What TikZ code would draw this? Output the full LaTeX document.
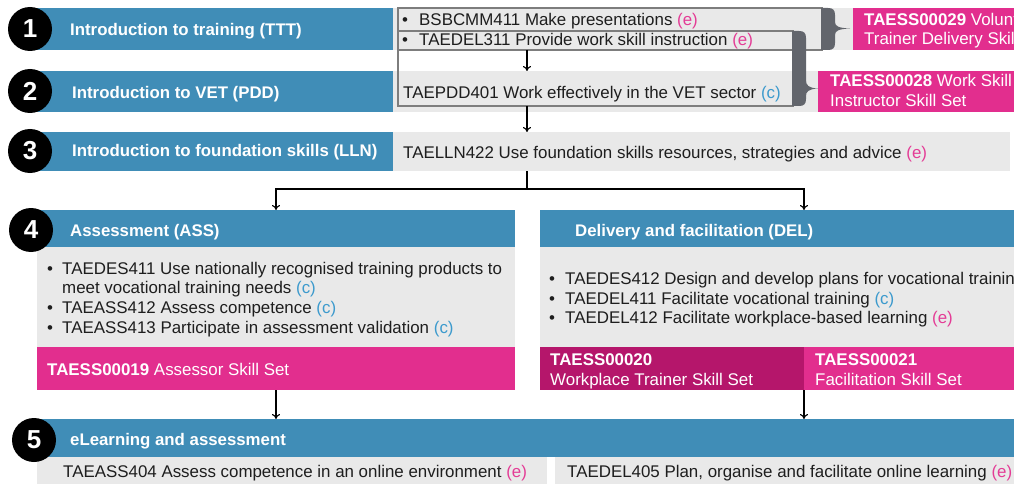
\documentclass[tikz,border=0pt]{standalone}
\usepackage{fontspec}
\setmainfont{Liberation Sans}
\usetikzlibrary{arrows.meta}
\definecolor{bluebar}{RGB}{64,141,183}
\definecolor{panel}{RGB}{233,233,233}
\definecolor{pinkbox}{RGB}{226,46,142}
\definecolor{magbox}{RGB}{181,22,107}
\definecolor{ecol}{RGB}{228,60,150}
\definecolor{ccol}{RGB}{60,154,205}
\definecolor{bracecol}{RGB}{98,101,108}
\definecolor{outl}{RGB}{125,125,125}
\definecolor{ink}{RGB}{30,30,30}
\newcommand\eTag{{\color{ecol}(e)}}
\newcommand\cTag{{\color{ccol}(c)}}
\begin{document}
\begin{tikzpicture}[x=1pt,y=-1pt,
  rectbox/.style={rectangle,inner sep=0,outer sep=0,anchor=north west},
  bar/.style={rectbox,fill=bluebar},
  pan/.style={rectbox,fill=panel},
  pinkb/.style={rectbox,fill=pinkbox},
  magb/.style={rectbox,fill=magbox},
  outlinebox/.style={rectbox,draw=outl,line width=1.2pt},
  txt/.style={inner sep=0,anchor=base west,text=ink,font=\fontsize{16.9}{20}\selectfont},
  ttl/.style={txt,text=white,font=\fontsize{16.8}{20}\selectfont\bfseries},
  wtxt/.style={txt,text=white},
  bul/.style={txt},
  num/.style={circle,fill=black,minimum size=44pt,inner sep=0,text=white,font=\fontsize{26}{26}\selectfont\bfseries},
  conn/.style={draw=black,line width=1.1pt},
  arr/.style={conn,-{To[length=5pt,width=8pt]}}
]
\clip (0,0) rectangle (1014,484);
\fill[white] (0,0) rectangle (1014,484);

% ---- row 1 and 2 ----
\node[bar,minimum width=356pt,minimum height=42pt] (b1) at (37,8) {};
\node[pan,minimum width=621pt,minimum height=42pt] (p1) at (393,8) {};
\node[bar,minimum width=356pt,minimum height=41pt] (b2) at (37,71) {};
\node[pan,minimum width=425pt,minimum height=41pt] (p2) at (393,71) {};
\node[pinkb,minimum width=161pt,minimum height=42pt] (k29) at (853,8) {};
\node[pinkb,minimum width=196pt,minimum height=41pt] (k28) at (818,71) {};

\node[outlinebox,minimum width=424pt,minimum height=42pt] (box1) at (398,8) {};
\node[outlinebox,minimum width=395pt,minimum height=75pt] (box2) at (398,31) {};

% braces
\fill[bracecol] (821,8) -- (828,8) .. controls (833,8) and (835,10) .. (835,15) -- (835,22)
  .. controls (835,26) and (838,28) .. (850,28.5) .. controls (838,29) and (835,31) .. (835,35)
  -- (835,43) .. controls (835,48) and (833,50) .. (828,50) -- (821,50) -- cycle;
\fill[bracecol] (792,31) -- (799,31) .. controls (804,31) and (806,33) .. (806,38) -- (806,80)
  .. controls (806,85) and (808,88) .. (818,88.5) .. controls (808,89) and (806,92) .. (806,96)
  -- (806,99) .. controls (806,104) and (804,106) .. (799,106) -- (792,106) -- cycle;

% ---- row 3 ----
\node[bar,minimum width=356pt,minimum height=39pt] (b3) at (37,132) {};
\node[pan,minimum width=617pt,minimum height=39pt] (p3) at (393,132) {};

% ---- row 4 ----
\node[bar,minimum width=478pt,minimum height=37pt] (b4l) at (37,210) {};
\node[pan,minimum width=478pt,minimum height=100pt] (p4l) at (37,247) {};
\node[pinkb,minimum width=478pt,minimum height=43pt] (k19) at (37,347) {};
\node[bar,minimum width=474pt,minimum height=37pt] (b4r) at (540,210) {};
\node[pan,minimum width=474pt,minimum height=100pt] (p4r) at (540,247) {};
\node[magb,minimum width=264pt,minimum height=43pt] (m20) at (540,347) {};
\node[pinkb,minimum width=210pt,minimum height=43pt] (k21) at (804,347) {};

% ---- row 5 ----
\node[bar,minimum width=977pt,minimum height=38pt] (b5) at (37,419) {};
\node[pan,minimum width=510pt,minimum height=27pt] (p5l) at (37,457) {};
\node[pan,minimum width=459pt,minimum height=27pt] (p5r) at (555,457) {};

% ---- number circles ----
\node[num] (n1) at (30,29) {1};
\node[num] (n2) at (30,91) {2};
\node[num] (n3) at (30,151) {3};
\node[num] (n4) at (31,230) {4};
\node[num] (n5) at (34,440) {5};

% ---- titles ----
\node[ttl] (t1) at (70,36) {Introduction to training (TTT)};
\node[ttl] (t2) at (72,99) {Introduction to VET (PDD)};
\node[ttl] (t3) at (72,157) {Introduction to foundation skills (LLN)};
\node[ttl] (t4l) at (70,236) {Assessment (ASS)};
\node[ttl] (t4r) at (575,236) {Delivery and facilitation (DEL)};
\node[ttl] (t5) at (70,445) {eLearning and assessment};

% ---- unit texts ----
\node[bul] (u1a) at (402,26) {•};
\node[txt] (u1) at (419,26) {BSBCMM411 Make presentations \eTag};
\node[bul] (u2a) at (402,46) {•};
\node[txt] (u2) at (419,46) {TAEDEL311 Provide work skill instruction \eTag};
\node[txt] (u3) at (403,99) {TAEPDD401 Work effectively in the VET sector \cTag};
\node[txt] (u4) at (403,158) {TAELLN422 Use foundation skills resources, strategies and advice \eTag};

\node[bul] (v1a) at (47,274) {•};
\node[txt] (v1) at (62,274) {TAEDES411 Use nationally recognised training products to};
\node[txt] (v1b) at (62,293.5) {meet vocational training needs \cTag};
\node[bul] (v2a) at (47,313) {•};
\node[txt] (v2) at (62,313) {TAEASS412 Assess competence \cTag};
\node[bul] (v3a) at (47,333) {•};
\node[txt] (v3) at (62,333) {TAEASS413 Participate in assessment validation \cTag};

\node[bul] (w1a) at (549,284) {•};
\node[txt] (w1) at (565,284) {TAEDES412 Design and develop plans for vocational training \cTag};
\node[bul] (w2a) at (549,304) {•};
\node[txt] (w2) at (565,304) {TAEDEL411 Facilitate vocational training \cTag};
\node[bul] (w3a) at (549,323) {•};
\node[txt] (w3) at (565,323) {TAEDEL412 Facilitate workplace-based learning \eTag};

\node[txt] (x1) at (63,477) {TAEASS404 Assess competence in an online environment \eTag};
\node[txt] (x2) at (567,477) {TAEDEL405 Plan, organise and facilitate online learning \eTag};

% ---- skill set texts ----
\node[wtxt] (s29a) at (864,26) {\textbf{TAESS00029} Volunteer};
\node[wtxt] (s29b) at (864,45) {Trainer Delivery Skill Set};
\node[wtxt] (s28a) at (830,87) {\textbf{TAESS00028} Work Skill};
\node[wtxt] (s28b) at (830,107) {Instructor Skill Set};
\node[wtxt] (s19) at (47,375) {\textbf{TAESS00019} Assessor Skill Set};
\node[wtxt] (s20a) at (550,365) {\textbf{TAESS00020}};
\node[wtxt] (s20b) at (550,385) {Workplace Trainer Skill Set};
\node[wtxt] (s21a) at (815,365) {\textbf{TAESS00021}};
\node[wtxt] (s21b) at (815,385) {Facilitation Skill Set};

% ---- connectors ----
\coordinate (spine) at (527,0);
\draw[arr] (box1.south -| spine) -- (p2.north -| spine);
\draw[arr] (box2.south -| spine) -- (p3.north -| spine);
\draw[conn] (p3.south -| spine) -- ++(0,18) coordinate (split);
\draw[arr] (split) -| (b4l.north);
\draw[arr] (split) -| (b4r.north -| m20.east);
\draw[arr] (k19.south) -- (b5.north -| k19.south);
\draw[arr] (m20.south east) -- (b5.north -| m20.south east);
\end{tikzpicture}
\end{document}
